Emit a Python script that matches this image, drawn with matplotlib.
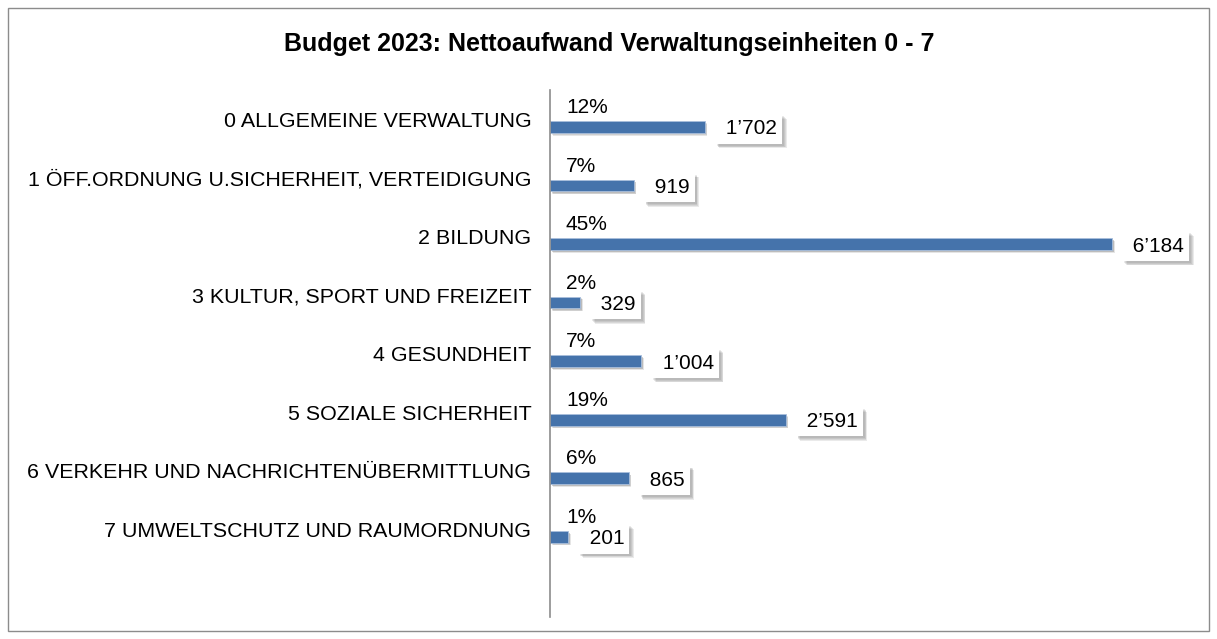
import matplotlib
matplotlib.use("Agg")
from matplotlib import pyplot as plt
from matplotlib import patheffects as pe
from matplotlib.patches import Rectangle

plt.rcParams['font.family'] = ['Liberation Sans', 'DejaVu Sans']

categories = [
    "0 ALLGEMEINE VERWALTUNG",
    "1 ÖFF.ORDNUNG U.SICHERHEIT, VERTEIDIGUNG",
    "2 BILDUNG",
    "3 KULTUR, SPORT UND FREIZEIT",
    "4 GESUNDHEIT",
    "5 SOZIALE SICHERHEIT",
    "6 VERKEHR UND NACHRICHTENÜBERMITTLUNG",
    "7 UMWELTSCHUTZ UND RAUMORDNUNG",
]
values = [1702, 919, 6184, 329, 1004, 2591, 865, 201]
shares = ["12%", "7%", "45%", "2%", "7%", "19%", "6%", "1%"]

BAR = "#4573ab"


def fmt(v: int) -> str:
    return " " + f"{v:,}".replace(",", "\u2019")


def soft_shadow(dx: float, dy: float, steps: int = 4, alpha: float = 0.12):
    # a few stacked offsets to fake a blurred drop shadow
    effects = []
    for k in range(steps, 0, -1):
        f = k / steps
        effects.append(pe.SimplePatchShadow(offset=(dx * f + 0.8, dy * f - 0.8),
                                            shadow_rgbFace="#555555",
                                            alpha=alpha))
    effects.append(pe.Normal())
    return effects


def main() -> None:
    fig = plt.figure(figsize=(12.17, 6.39), dpi=100)
    fig.patches.append(Rectangle((8 / 1217, 8 / 639), 1201 / 1217, 623 / 639,
                                 transform=fig.transFigure, fill=False,
                                 ec="#8c8c8c", lw=1))
    ax = fig.add_axes([550 / 1217, 22 / 639, 640 / 1217, 527 / 639])
    ax.set_xlim(0, 640 / 0.0909)
    ax.set_ylim(9, 0)

    for s in ("top", "right", "bottom"):
        ax.spines[s].set_visible(False)
    ax.spines["left"].set_color("#8c8c8c")
    ax.spines["left"].set_linewidth(1.2)
    ax.set_xticks([])
    ax.set_yticks([i + 0.5 for i in range(len(categories))])
    ax.set_yticklabels(categories, fontsize=15.4)
    ax.tick_params(axis="y", length=0, pad=13.5)

    ys = [i + 0.5 + 0.13 for i in range(len(values))]
    ax.barh(ys, values, height=0.2, color=BAR, edgecolor="#a9bfdc",
            linewidth=0.6, path_effects=soft_shadow(1.2, -1.2, 3, 0.15))

    for y, v, s in zip(ys, values, shares):
        ax.annotate(s, (0, y - 0.33), xytext=(11.5, 0),
                    textcoords="offset points",
                    ha="left", va="center", fontsize=15)
        ax.annotate(fmt(v), (v, y), xytext=(11, -1.5),
                    textcoords="offset points",
                    ha="left", va="center", fontsize=15,
                    bbox=dict(boxstyle="square,pad=0.25", fc="white", ec="none",
                              path_effects=soft_shadow(2.5, -2.5)))

    fig.text(609 / 1217, 1 - 44 / 639,
             "Budget 2023: Nettoaufwand Verwaltungseinheiten 0 - 7",
             ha="center", va="center", fontsize=18, fontweight="bold")

    fig.savefig("out.png", dpi=100)


if __name__ == "__main__":
    main()
